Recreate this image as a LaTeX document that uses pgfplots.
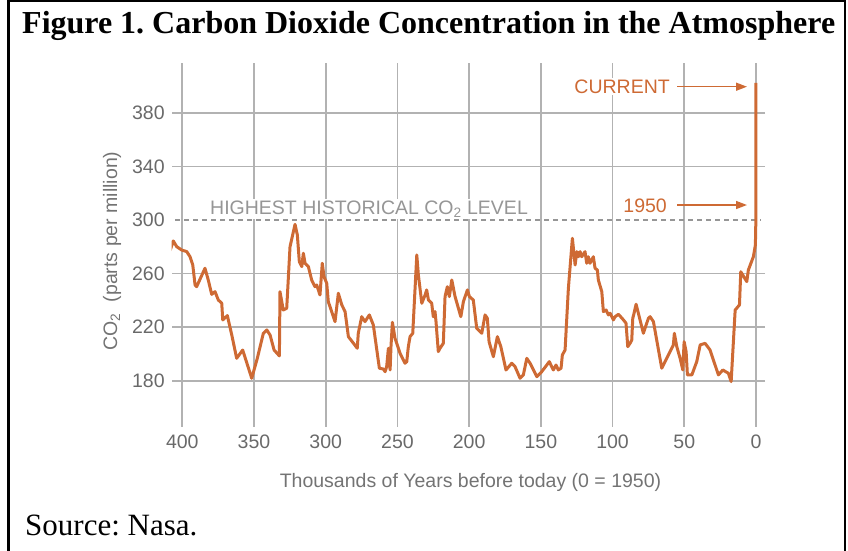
\documentclass[border=0pt]{standalone}
\usepackage{fontspec}
\setmainfont{Liberation Serif}
\setsansfont{Liberation Sans}
\usepackage{pgfplots}
\pgfplotsset{compat=1.18}
\usetikzlibrary{arrows.meta}
\definecolor{co2orange}{RGB}{206,106,52}
\definecolor{gridgray}{RGB}{178,178,178}
\definecolor{ticktext}{RGB}{105,105,105}
\definecolor{labeltext}{RGB}{115,115,115}
\definecolor{dashgray}{RGB}{150,150,150}
\newcommand{\lblfont}{\sffamily\fontsize{19.5}{22}\selectfont}
\frenchspacing
\begin{document}
\begin{tikzpicture}
\useasboundingbox (0pt,0pt) rectangle (848pt,-550pt);
\draw[line width=2.5pt] (8.5pt,-1.2pt) rectangle (845pt,-560pt);
\node[anchor=base west, inner sep=0pt, font=\bfseries\fontsize{32}{36}\selectfont] at (22pt,-33pt) {Figure 1. Carbon Dioxide Concentration in the Atmosphere};
\node[anchor=base west, inner sep=0pt, font=\fontsize{31}{34}\selectfont] at (25pt,-535pt) {Source: Nasa.};
\begin{axis}[
  at={(171.7pt,-426.7pt)}, anchor=south west,
  scale only axis, width=593.3pt, height=363.4pt,
  x dir=reverse, xmin=-6.3, xmax=407.4, ymin=145.6, ymax=417.1,
  axis line style={draw=none}, major tick length=0pt,
  tick style={draw=none},
  grid=major, major grid style={line width=1.8pt, color=gridgray},
  xtick={0,50,...,400}, ytick={180,220,260,340,380},
  extra y ticks={300}, extra y tick style={grid=none},
  ticklabel style={font=\lblfont, text=ticktext},
  /pgf/number format/assume math mode=true,
  xticklabel style={yshift=-5pt},
  yticklabel style={xshift=-3.5pt},
]
\draw[dashgray, line width=1.3pt, dash pattern=on 5pt off 4pt] (axis cs:405,300) -- (axis cs:-3,300);
\addplot[co2orange, line width=3pt, line join=round, mark=none] table {
x y
408.6 276.9
406.3 284.4
403.9 280.1
400.4 277.6
396.9 276.4
394.6 272.6
392.7 266.4
391.1 251.5
390.0 250.2
384.2 264.0
381.9 255.2
379.5 244.5
377.2 246.5
374.9 240.3
372.5 237.8
371.8 225.4
368.6 228.6
365.5 214.1
362.1 196.7
357.9 202.9
351.6 181.8
347.7 196.7
343.5 215.4
341.1 217.9
338.8 214.1
336.0 202.9
332.3 198.5
331.9 246.5
329.6 232.8
327.2 234.1
324.9 280.0
321.4 296.8
319.8 288.9
318.4 268.9
316.7 265.2
315.6 275.2
314.4 267.7
312.1 265.2
309.8 255.2
307.5 250.2
306.3 251.5
304.0 244.0
302.4 267.7
301.2 257.7
299.3 252.8
298.2 239.0
293.5 224.1
291.2 245.3
288.8 236.6
286.5 231.6
284.2 212.9
278.0 204.2
277.3 215.4
274.9 227.8
272.6 224.1
269.6 229.1
266.8 221.6
262.6 189.3
259.8 188.7
258.6 186.7
257.5 190.5
256.3 204.2
255.1 188.0
254.5 205.4
253.5 223.6
251.7 211.7
248.2 200.5
244.7 193.0
243.5 194.2
242.4 205.4
241.2 212.9
239.3 215.4
238.9 224.1
236.5 273.9
235.4 259.0
233.0 237.8
230.7 244.0
229.6 247.8
228.4 240.3
226.1 237.8
225.0 227.8
223.8 231.6
223.1 224.1
221.5 201.7
220.3 204.2
218.0 207.9
216.8 242.8
215.2 250.2
213.8 242.8
212.1 255.2
209.8 242.8
205.8 227.8
204.0 239.0
202.8 242.8
201.2 247.8
199.8 242.8
197.1 240.3
194.7 219.1
191.2 215.4
188.9 229.1
187.3 226.6
186.1 209.1
183.1 197.9
180.3 212.9
177.9 205.4
174.3 188.0
170.3 193.0
168.0 190.5
164.5 181.8
162.2 184.3
159.8 196.7
157.5 193.0
152.8 183.0
149.4 186.7
144.1 194.2
141.3 188.0
139.4 191.7
137.8 188.0
135.9 189.3
135.0 199.2
133.1 202.9
130.8 249.0
128.0 286.4
126.1 266.4
124.9 276.4
123.8 272.6
122.6 276.4
121.5 272.6
119.2 276.4
118.0 267.7
116.9 272.6
115.7 267.7
113.4 272.6
112.2 264.0
110.6 262.7
109.9 255.2
107.5 246.5
106.4 231.6
104.5 232.8
102.9 229.1
101.7 230.4
99.4 225.4
98.2 227.8
95.9 229.6
92.4 225.4
90.6 222.9
89.4 205.4
87.8 207.9
86.6 210.4
85.9 226.6
85.0 230.4
83.6 237.1
82.0 230.4
78.5 215.4
75.0 226.6
73.8 227.8
71.5 224.1
65.7 189.3
57.6 206.7
56.9 215.4
55.2 205.4
52.9 196.7
51.0 188.0
50.1 209.1
48.7 201.7
47.8 184.3
44.7 184.3
41.3 194.2
38.9 206.7
35.5 207.9
32.0 202.9
26.2 184.3
23.1 188.0
19.2 185.5
17.3 179.3
14.5 232.8
11.5 236.6
10.6 261.4
6.4 254.0
5.3 262.7
1.8 272.6
0.4 281.4
0.0 303.8
0.0 402.4
};
\end{axis}
\node[anchor=base west, inner sep=1.5pt, fill=white, font=\lblfont, text=dashgray] at (208.5pt,-214pt) {HIGHEST HISTORICAL CO\textsubscript{2} LEVEL};
\node[anchor=base east, inner sep=1.5pt, fill=white, font=\lblfont, text=co2orange] at (671.5pt,-93.3pt) {CURRENT};
\node[anchor=base east, inner sep=1.5pt, fill=white, font=\lblfont, text=co2orange] at (668.5pt,-212.7pt) {1950};
\draw[co2orange, line width=1.5pt, -{Triangle[length=11pt,width=8pt]}] (677pt,-86.7pt) -- (747pt,-86.7pt);
\draw[co2orange, line width=1.5pt, -{Triangle[length=11pt,width=8pt]}] (677pt,-205pt) -- (747pt,-205pt);
\node[anchor=base, inner sep=0pt, font=\lblfont, text=labeltext] at (470.5pt,-487pt) {Thousands of Years before today (0 = 1950)};
\node[rotate=90, inner sep=0pt, font=\lblfont, text=labeltext] at (112pt,-251pt) {CO\textsubscript{2} \ (parts per million)};
\end{tikzpicture}
\end{document}
